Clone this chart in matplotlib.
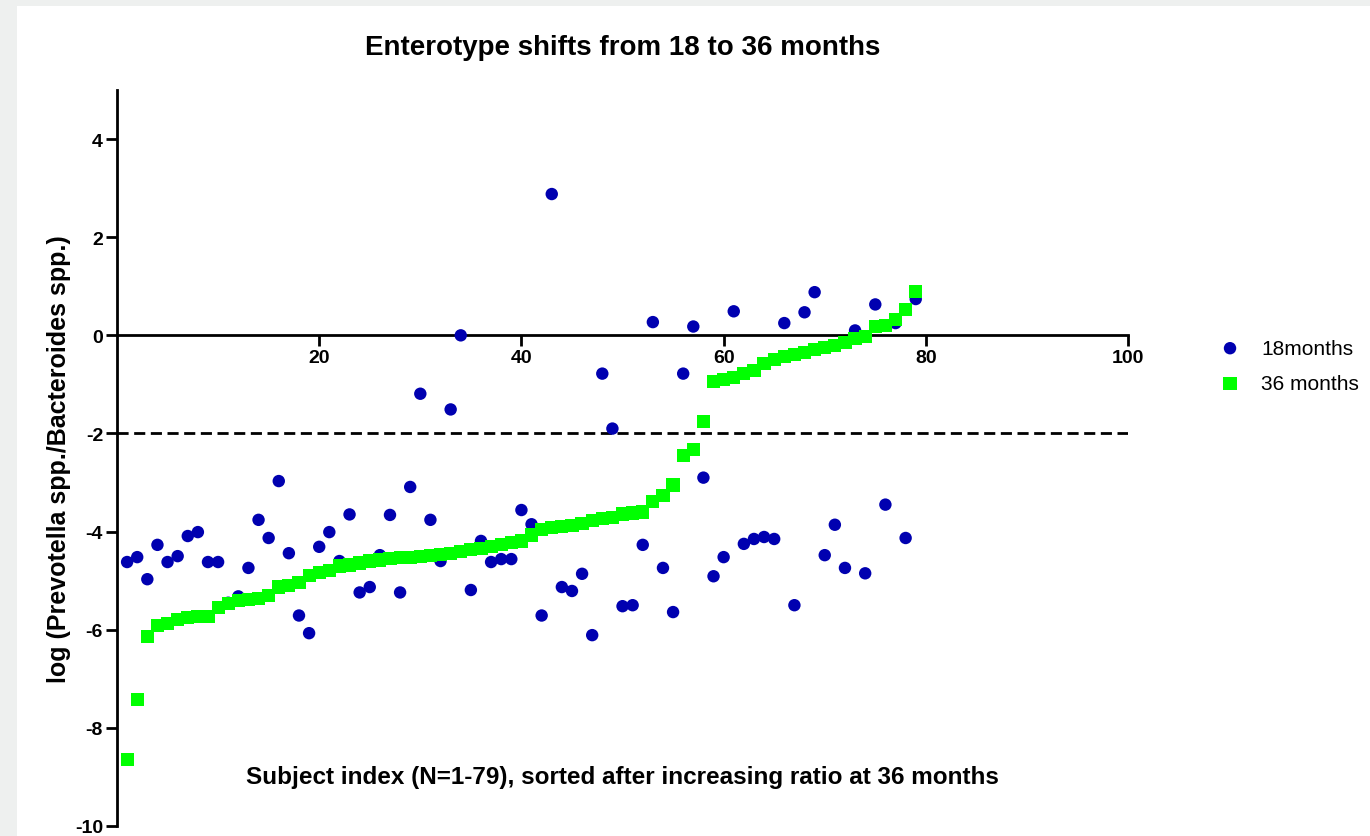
import matplotlib
matplotlib.use("Agg")
import matplotlib.pyplot as plt
from matplotlib.patches import Rectangle

plt.rcParams['font.family'] = ['Liberation Sans', 'DejaVu Sans']
plt.rcParams['axes.unicode_minus'] = False

# subject index 1..79, sorted by 36-month ratio
subject_idx = list(range(1, 80))

ratio_36m = [
    -8.65, -7.42, -6.13, -5.91, -5.87, -5.79, -5.75, -5.73, -5.73, -5.54,
    -5.46, -5.40, -5.38, -5.36, -5.30, -5.13, -5.09, -5.03, -4.89, -4.83,
    -4.79, -4.70, -4.68, -4.64, -4.60, -4.58, -4.54, -4.52, -4.52, -4.50,
    -4.48, -4.46, -4.44, -4.40, -4.36, -4.34, -4.31, -4.27, -4.23, -4.19,
    -4.07, -3.95, -3.91, -3.89, -3.87, -3.83, -3.78, -3.74, -3.72, -3.64,
    -3.62, -3.60, -3.39, -3.27, -3.05, -2.45, -2.33, -1.76, -0.94, -0.90,
    -0.86, -0.78, -0.72, -0.57, -0.49, -0.43, -0.39, -0.35, -0.29, -0.25,
    -0.20, -0.14, -0.06, -0.02, 0.18, 0.20, 0.33, 0.52, 0.90,
]

ratio_18m = [
    -4.62, -4.52, -4.97, -4.27, -4.62, -4.50, -4.09, -4.01, -4.62, -4.62,
    -5.45, -5.32, -4.74, -3.76, -4.13, -2.97, -4.44, -5.71, -6.07, -4.31,
    -4.01, -4.60, -3.65, -5.24, -5.13, -4.48, -3.66, -5.24, -3.09, -1.19,
    -3.76, -4.60, -1.51, 0.00, -5.19, -4.19, -4.62, -4.56, -4.56, -3.56,
    -3.85, -5.71, 2.88, -5.13, -5.21, -4.86, -6.11, -0.78, -1.90, -5.52,
    -5.50, -4.27, 0.27, -4.74, -5.64, -0.78, 0.18, -2.90, -4.91, -4.52,
    0.49, -4.25, -4.15, -4.11, -4.15, 0.25, -5.50, 0.47, 0.88, -4.48,
    -3.86, -4.74, 0.10, -4.85, 0.63, -3.45, 0.25, -4.13, 0.74,
]

cutoff = -2

fig = plt.figure(figsize=(13.7, 8.37), dpi=100, facecolor='#eef0ef')
fig.patches.append(Rectangle((17 / 1370, 0), 1, 1 - 7 / 837, transform=fig.transFigure,
                             facecolor='white', edgecolor='none', zorder=-10))

ax = fig.add_axes([0.0854, 0.01195, 0.738, 0.8793])
ax.set_facecolor('none')

ax.scatter(subject_idx, ratio_18m, s=80, marker='o', color='#0000b0',
           edgecolors='none', label='18months', zorder=3)
ax.scatter(subject_idx, ratio_36m, s=90, marker='s', color='#00ff00',
           edgecolors='none', label='36 months', zorder=4)

ax.axhline(cutoff, color='black', linestyle=(0, (4, 2)), linewidth=2, zorder=2)

ax.set_xlim(0, 100)
ax.set_ylim(-10, 5)
ax.spines['top'].set_visible(False)
ax.spines['right'].set_visible(False)
ax.spines['bottom'].set_position(('data', 0))
ax.spines['left'].set_linewidth(2)
ax.spines['bottom'].set_linewidth(2)

ax.set_xticks([20, 40, 60, 80, 100])
ax.set_yticks([-10, -8, -6, -4, -2, 0, 2, 4])
ax.tick_params(axis='both', width=2, length=8, labelsize=14, pad=2)
for lbl in ax.get_xticklabels() + ax.get_yticklabels():
    lbl.set_fontweight('bold')

ax.set_title('Enterotype shifts from 18 to 36 months', fontsize=20,
             fontweight='bold', pad=26)
ax.set_ylabel('log (Prevotella spp./Bacteroides spp.)', fontsize=18,
              fontweight='bold', labelpad=3)
ax.text(50, -9.0, 'Subject index (N=1-79), sorted after increasing ratio at 36 months',
        ha='center', va='center', fontsize=17.5, fontweight='bold')

ax.legend(loc='center left', bbox_to_anchor=(1.072, 0.625), frameon=False,
          fontsize=15, handletextpad=0.5, labelspacing=0.8, borderaxespad=0)

fig.savefig('out.png', dpi=100, facecolor=fig.get_facecolor())
